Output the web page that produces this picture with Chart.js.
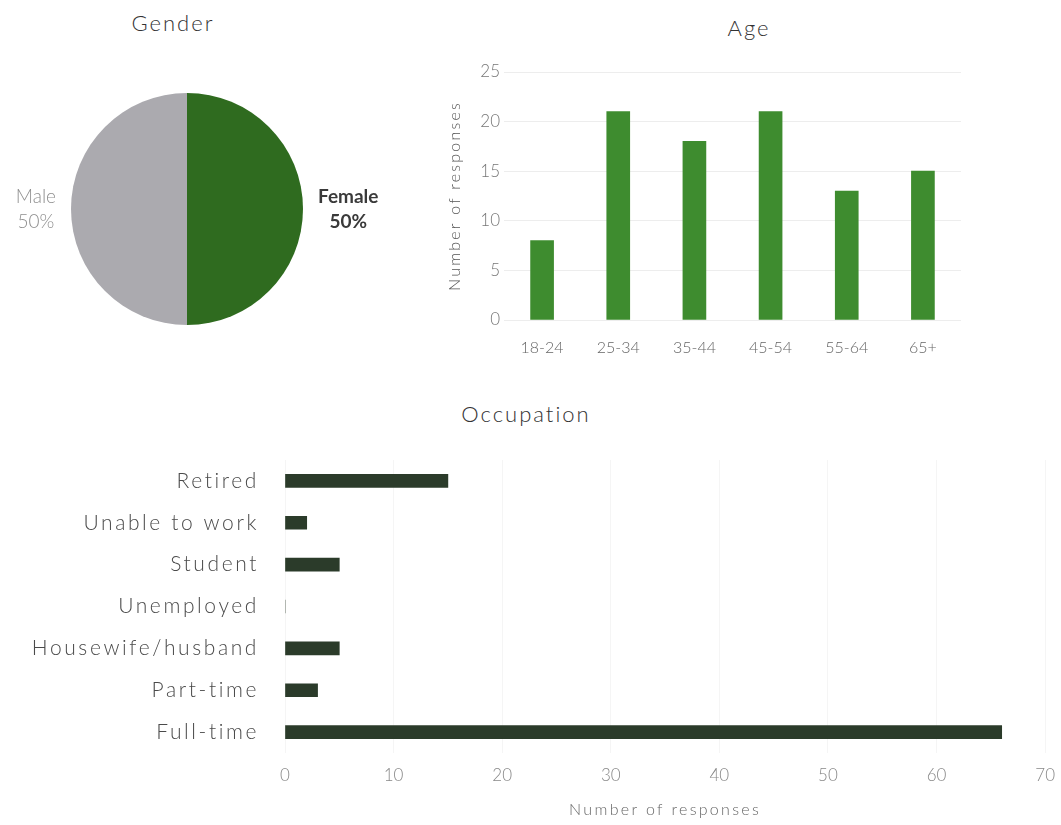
<!DOCTYPE html>
<html>
<head>
<meta charset="utf-8">
<script src="https://cdn.jsdelivr.net/npm/chart.js@4.4.1/dist/chart.umd.min.js"></script>
<style>
  html, body { margin: 0; padding: 0; background: #fff; overflow: hidden; }
  body { width: 1061px; height: 825px; position: relative; font-family: Lato, "Open Sans", sans-serif; }
  .box { position: absolute; }
  .title {
    position: absolute;
    transform: translate(-50%, -50%);
    font-size: 22px;
    font-weight: 300;
    color: #333;
    letter-spacing: 2px;
    white-space: nowrap;
  }
  #genderBox { left: 0; top: 0; width: 420px; height: 340px; }
  #ageBox { left: 435px; top: 0; width: 626px; height: 380px; }
  #occBox { left: -10px; top: 390px; width: 1077px; height: 435px; }
</style>
</head>
<body>
<div class="title" style="left:173px; top:22px;">Gender</div>
<div class="title" style="left:749px; top:27px;">Age</div>
<div class="title" style="left:526px; top:413px;">Occupation</div>
<div class="box" id="genderBox"><canvas id="genderChart"></canvas></div>
<div class="box" id="ageBox"><canvas id="ageChart"></canvas></div>
<div class="box" id="occBox"><canvas id="occChart"></canvas></div>
<script>
const genderLabels = ['Female', 'Male'];
const genderShare = [50, 50];

const ageGroups = ['18-24', '25-34', '35-44', '45-54', '55-64', '65+'];
const ageCounts = [8, 21, 18, 21, 13, 15];

const occupations = ['Retired', 'Unable to work', 'Student', 'Unemployed', 'Housewife/husband', 'Part-time', 'Full-time'];
const occupationCounts = [15, 2, 5, 0, 5, 3, 66];

Chart.defaults.font.family = 'Lato, "Open Sans", sans-serif';
Chart.defaults.color = '#666';

// wraps a scale draw method so its text gets extra letter spacing
function track(axis, method, px) {
  if (axis['_tracked_' + method]) return;
  const base = axis[method].bind(axis);
  axis['_tracked_' + method] = true;
  axis[method] = function (...args) {
    const ctx = this.ctx;
    const prev = ctx.letterSpacing;
    ctx.letterSpacing = px + 'px';
    base(...args);
    ctx.letterSpacing = prev;
  };
}

// puts "Female 50%" / "Male 50%" beside each half of the pie
const sliceLabels = {
  id: 'sliceLabels',
  afterDatasetsDraw(chart) {
    const ctx = chart.ctx;
    const meta = chart.getDatasetMeta(0);
    meta.data.forEach((arc, i) => {
      const mid = (arc.startAngle + arc.endAngle) / 2;
      const bold = i === 0;
      const lines = [genderLabels[i], genderShare[i] + '%'];
      ctx.save();
      ctx.font = (bold ? 'bold ' : '300 ') + '19px Lato, sans-serif';
      ctx.fillStyle = bold ? '#3a3a3a' : '#8f8f8f';
      ctx.textAlign = 'center';
      ctx.textBaseline = 'middle';
      const w = Math.max(...lines.map(l => ctx.measureText(l).width));
      const gap = arc.outerRadius + 15 + w / 2;
      const x = arc.x + Math.cos(mid) * gap;
      const y = arc.y + Math.sin(mid) * gap;
      ctx.fillText(lines[0], x, y - 12);
      ctx.fillText(lines[1], x, y + 13);
      ctx.restore();
    });
  }
};

new Chart(document.getElementById('genderChart'), {
  type: 'pie',
  data: {
    labels: genderLabels,
    datasets: [{
      data: genderShare,
      backgroundColor: ['#2f6b1f', '#abaaaf'],
      borderWidth: 0
    }]
  },
  options: {
    responsive: true,
    maintainAspectRatio: false,
    animation: false,
    layout: { padding: { top: 93, bottom: 15, left: 0, right: 46 } },
    plugins: {
      legend: { display: false },
      tooltip: { enabled: false }
    }
  },
  plugins: [sliceLabels]
});

new Chart(document.getElementById('ageChart'), {
  type: 'bar',
  data: {
    labels: ageGroups,
    datasets: [{
      data: ageCounts,
      backgroundColor: '#3e8c2f',
      barThickness: 23
    }]
  },
  options: {
    responsive: true,
    maintainAspectRatio: false,
    animation: false,
    layout: { padding: { top: 72, right: 100, left: 0, bottom: 0 } },
    plugins: {
      legend: { display: false },
      tooltip: { enabled: false }
    },
    scales: {
      x: {
        grid: { display: false },
        border: { display: false },
        ticks: { color: '#666', font: { size: 16, weight: 300 }, padding: 10 },
        afterFit: (axis) => { axis.height = 60; }
      },
      y: {
        min: 0,
        max: 25,
        ticks: { stepSize: 5, color: '#777', font: { size: 17, weight: 300 }, padding: 4 },
        grid: { color: '#ededed', drawTicks: false },
        border: { display: false },
        title: {
          display: true,
          text: 'Number of responses',
          color: '#555',
          font: { size: 16, weight: 300 },
          padding: { top: 10, bottom: 0 }
        },
        afterFit: (axis) => {
          axis.width = 69;
          track(axis, 'drawTitle', 2.2);
        }
      }
    }
  }
});

new Chart(document.getElementById('occChart'), {
  type: 'bar',
  data: {
    labels: occupations,
    datasets: [{
      data: occupationCounts,
      backgroundColor: '#2b3b2a',
      barThickness: 13
    }]
  },
  options: {
    indexAxis: 'y',
    responsive: true,
    maintainAspectRatio: false,
    animation: false,
    layout: { padding: { top: 70, right: 0, left: 0, bottom: 0 } },
    plugins: {
      legend: { display: false },
      tooltip: { enabled: false }
    },
    scales: {
      x: {
        min: 0,
        max: 70,
        ticks: { stepSize: 10, color: '#888', font: { size: 17, weight: 300 }, padding: 12 },
        grid: { color: '#f5f5f5', drawTicks: false },
        border: { display: false },
        title: {
          display: true,
          text: 'Number of responses',
          color: '#666',
          font: { size: 16, weight: 300 },
          padding: { top: 0, bottom: 6 }
        },
        afterFit: (axis) => {
          axis.height = 72;
          track(axis, 'drawTitle', 2.3);
        }
      },
      y: {
        grid: { display: false },
        border: { display: false },
        ticks: { color: '#4a4a4a', font: { size: 21, weight: 300 }, padding: 18 },
        afterFit: (axis) => {
          axis.width = 295;
          track(axis, 'drawLabels', 2.6);
        }
      }
    }
  }
});
</script>
</body>
</html>
